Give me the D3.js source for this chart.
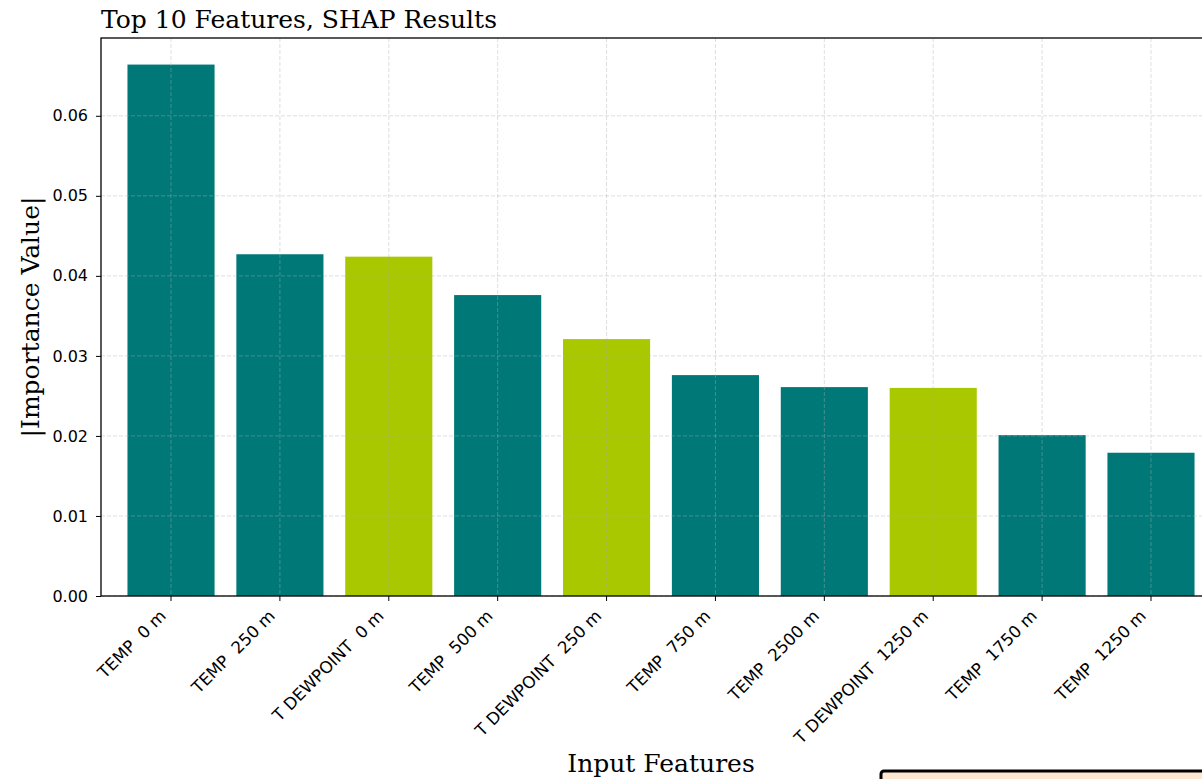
<!DOCTYPE html>
<html>
<head>
<meta charset="utf-8">
<script src="https://cdn.jsdelivr.net/npm/d3@7"></script>
<style>
  html, body { margin: 0; padding: 0; background: #fff; overflow: hidden; }
  svg { display: block; }
</style>
</head>
<body>
<svg id="chart" width="1202" height="779"></svg>
<script>
// Top-10 feature importances (mean |SHAP|)
const features = [
  "TEMP  0 m", "TEMP  250 m", "T DEWPOINT  0 m", "TEMP  500 m", "T DEWPOINT  250 m",
  "TEMP  750 m", "TEMP  2500 m", "T DEWPOINT  1250 m", "TEMP  1750 m", "TEMP  1250 m"
];
const importance = [0.0664, 0.0427, 0.0424, 0.0376, 0.0321, 0.0276, 0.0261, 0.0260, 0.0201, 0.0179];
const featureGroup = ["temp", "temp", "dew", "temp", "dew", "temp", "temp", "dew", "temp", "temp"];
const yTicks = [0.00, 0.01, 0.02, 0.03, 0.04, 0.05, 0.06];

const colors = { temp: "#007878", dew: "#a9c800" };

const svg = d3.select("#chart");
const plot = { left: 101, top: 38, right: 1221, bottom: 596 };

const yMax = d3.max(importance) * 1.05;
const y = d3.scaleLinear().domain([0, yMax]).range([plot.bottom, plot.top]);

const step = (plot.right - plot.left) / (features.length + 0.286);
const x = d3.scaleBand()
  .domain(features)
  .range([plot.left + 0.643 * step - step / 2, plot.left + 0.643 * step + (features.length - 0.5) * step])
  .paddingInner(0.2)
  .paddingOuter(0.1);

// bars
svg.append("g")
  .selectAll("rect")
  .data(features)
  .join("rect")
  .attr("x", d => x(d))
  .attr("width", x.bandwidth())
  .attr("y", (d, i) => y(importance[i]))
  .attr("height", (d, i) => y(0) - y(importance[i]))
  .attr("fill", (d, i) => colors[featureGroup[i]]);

// dashed grid, drawn above the bars
const grid = svg.append("g")
  .attr("stroke", "#b0b0b0")
  .attr("stroke-opacity", 0.4)
  .attr("stroke-width", 1)
  .attr("stroke-dasharray", "4,2");
grid.selectAll("line.h")
  .data(yTicks)
  .join("line")
  .attr("class", "h")
  .attr("x1", plot.left).attr("x2", plot.right)
  .attr("y1", d => y(d)).attr("y2", d => y(d));
grid.selectAll("line.v")
  .data(features)
  .join("line")
  .attr("class", "v")
  .attr("x1", d => x(d) + x.bandwidth() / 2).attr("x2", d => x(d) + x.bandwidth() / 2)
  .attr("y1", plot.top).attr("y2", plot.bottom);

// frame
svg.append("rect")
  .attr("x", plot.left).attr("y", plot.top)
  .attr("width", plot.right - plot.left).attr("height", plot.bottom - plot.top)
  .attr("fill", "none").attr("stroke", "#000").attr("stroke-width", 1.3);

// y axis
const yAxis = svg.append("g")
  .attr("transform", `translate(${plot.left},0)`)
  .call(d3.axisLeft(y).tickValues(yTicks).tickFormat(d3.format(".2f")).tickSize(5).tickPadding(8));
yAxis.select(".domain").remove();
yAxis.selectAll("text")
  .attr("font-family", "DejaVu Sans")
  .attr("font-size", 16)
  .attr("fill", "#000");
yAxis.selectAll("line").attr("stroke", "#000");

// x axis
const xAxis = svg.append("g")
  .attr("transform", `translate(0,${plot.bottom})`)
  .call(d3.axisBottom(x).tickSize(5).tickSizeOuter(0));
xAxis.select(".domain").remove();
xAxis.selectAll("line").attr("stroke", "#000");
xAxis.selectAll("text")
  .attr("font-family", "DejaVu Sans")
  .attr("font-size", 16.7)
  .attr("fill", "#000")
  .attr("text-anchor", "end")
  .attr("xml:space", "preserve")
  .style("white-space", "pre")
  .attr("y", 0).attr("dy", 0)
  .attr("transform", "translate(-4,21) rotate(-45)");

// titles
svg.append("text")
  .attr("x", plot.left).attr("y", 28)
  .attr("font-family", "DejaVu Serif").attr("font-size", 25)
  .text("Top 10 Features, SHAP Results");

svg.append("text")
  .attr("x", (plot.left + plot.right) / 2).attr("y", 772)
  .attr("text-anchor", "middle")
  .attr("font-family", "DejaVu Serif").attr("font-size", 25)
  .text("Input Features");

svg.append("text")
  .attr("transform", `translate(39,${(plot.top + plot.bottom) / 2}) rotate(-90)`)
  .attr("text-anchor", "middle")
  .attr("font-family", "DejaVu Serif").attr("font-size", 25)
  .text("|Importance Value|");

// legend box (extends past the lower-right edge)
svg.append("rect")
  .attr("x", 881).attr("y", 771)
  .attr("width", 400).attr("height", 60)
  .attr("rx", 3)
  .attr("fill", "#fde7d3")
  .attr("stroke", "#000").attr("stroke-width", 3);
</script>
</body>
</html>
